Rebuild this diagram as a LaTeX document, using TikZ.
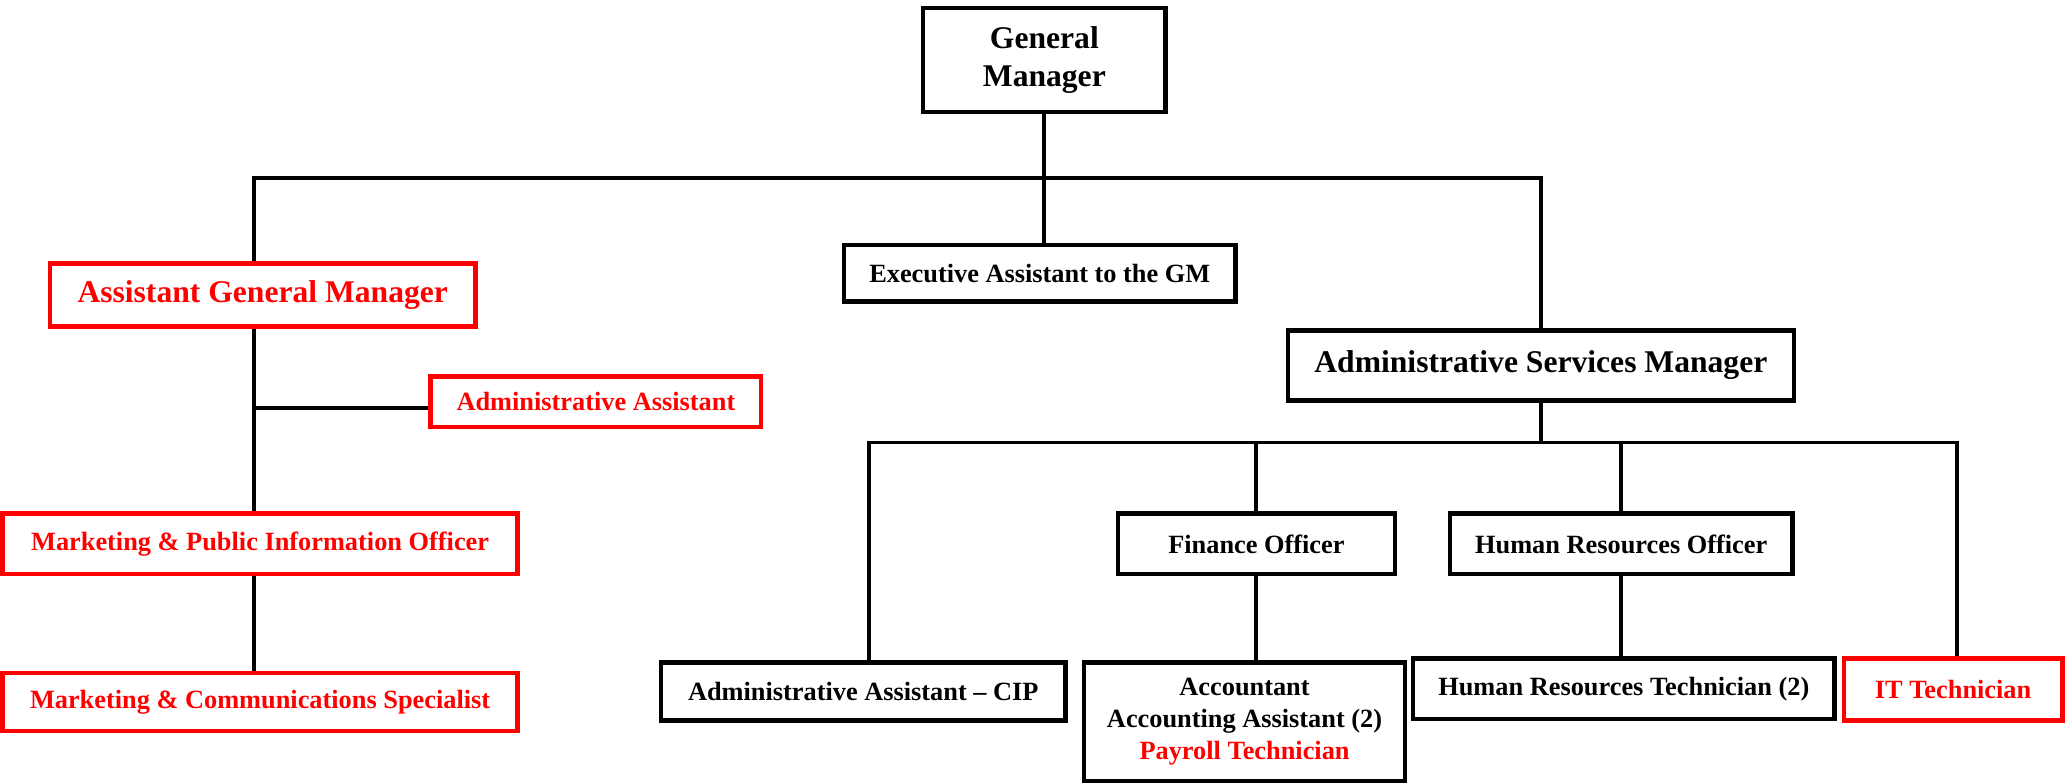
\documentclass[tikz,border=0pt]{standalone}
\usepackage{fontspec}
\setmainfont{Liberation Serif}
\definecolor{ored}{RGB}{255,0,0}
\begin{document}
\begin{tikzpicture}[x=1pt,y=-1pt,
  box/.style={draw=black,line width=3.3pt,inner sep=0pt,align=center,font=\fontsize{20}{24}\selectfont\bfseries},
  rbox/.style={box,draw=ored,text=ored},
  big/.style={font=\fontsize{24}{29}\selectfont\bfseries},
  conn/.style={draw=black,line width=3pt}]
\useasboundingbox (0,0) rectangle (1568,594);
\node[box,big,minimum width=184pt,minimum height=79pt] (gm) at (793,45.5) {General\\Manager};
\node[box,minimum width=297pt,minimum height=43pt] (exec) at (789.5,207.5) {Executive Assistant to the GM};
\node[rbox,big,minimum width=323pt,minimum height=48pt] (agm) at (199.5,224) {Assistant General Manager};
\node[box,big,minimum width=384pt,minimum height=53pt] (asm) at (1170,277.5) {Administrative Services Manager};
\node[rbox,minimum width=251pt,minimum height=38pt] (aa) at (452.5,305) {Administrative Assistant};
\node[rbox,minimum width=391pt,minimum height=46pt] (mpio) at (197.5,413) {Marketing \& Public Information Officer};
\node[rbox,minimum width=391pt,minimum height=44pt] (mcs) at (197.5,533) {Marketing \& Communications Specialist};
\node[box,minimum width=307pt,minimum height=44pt] (aacip) at (655.5,525) {Administrative Assistant -- CIP};
\node[box,minimum width=210pt,minimum height=46pt] (fin) at (954,413) {Finance Officer};
\node[box,minimum width=260pt,minimum height=46pt] (hro) at (1231,413) {Human Resources Officer};
\node[box,minimum width=244pt,minimum height=90pt] (acc) at (945,548) {Accountant\\Accounting Assistant (2)\\\textcolor{ored}{Payroll Technician}};
\node[box,minimum width=320pt,minimum height=46pt] (hrt) at (1233,523) {Human Resources Technician (2)};
\node[rbox,minimum width=166pt,minimum height=47pt] (it) at (1483,523.5) {IT Technician};
% connectors
\coordinate (top) at (193,135);
\coordinate (br) at (193,310);
\coordinate (cip) at (660,336);
\coordinate (itc) at (1486,336);
\draw[conn] (gm.south) -- (gm.south |- exec.north);
\draw[conn] (top |- agm.north) -- (top) -| (asm.north);
\draw[conn] (top |- agm.south) -- (top |- mpio.north);
\draw[conn] (br) -- (aa.west |- br);
\draw[conn] (top |- mpio.south) -- (top |- mcs.north);
\draw[conn] (asm.south) -- (asm.south |- cip);
\draw[conn] (cip |- aacip.north) -- (cip) -- (itc) -- (itc |- it.north);
\draw[conn] (fin.north) -- (fin.north |- cip);
\draw[conn] (hro.north) -- (hro.north |- cip);
\draw[conn] (fin.south) -- (fin.south |- acc.north);
\draw[conn] (hro.south) -- (hro.south |- hrt.north);
\end{tikzpicture}
\end{document}
